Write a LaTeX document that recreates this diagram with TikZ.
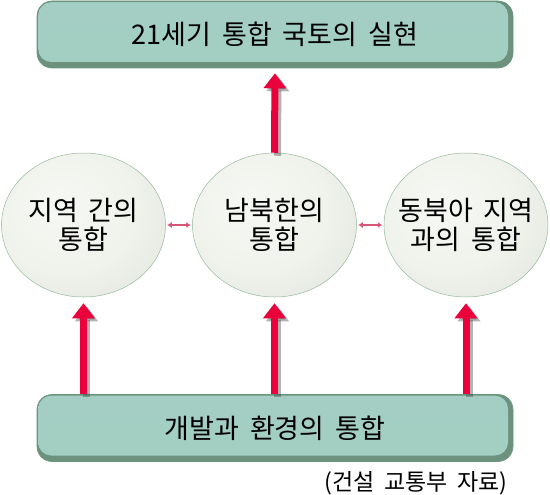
\documentclass[tikz,border=0pt]{standalone}
\usepackage{fontspec}
\newfontfamily\kr[WordSpace=1.8]{Noto Sans CJK KR}
\usetikzlibrary{shapes.geometric,arrows.meta}
\definecolor{arrred}{RGB}{234,0,58}
\definecolor{dblred}{RGB}{214,86,118}
\definecolor{boxdark}{RGB}{108,146,126}
\definecolor{boxedge}{RGB}{106,148,124}
\definecolor{ballrim}{RGB}{150,185,158}
\newcommand{\zl}[1]{\makebox[0pt]{#1}}
\pgfdeclareradialshading{ballshade}{\pgfpoint{-8bp}{8bp}}{rgb(0bp)=(0.965,0.972,0.955); rgb(22bp)=(0.94,0.95,0.925); rgb(38bp)=(0.885,0.905,0.87); rgb(48bp)=(0.79,0.835,0.78); rgb(55bp)=(0.66,0.735,0.67); rgb(70bp)=(0.63,0.71,0.64)}
\pgfdeclareverticalshading{boxshade}{100bp}{rgb(0bp)=(0.52,0.69,0.61); rgb(10bp)=(0.60,0.78,0.72); rgb(20bp)=(0.635,0.805,0.76); rgb(80bp)=(0.645,0.81,0.765); rgb(92bp)=(0.71,0.86,0.81); rgb(100bp)=(0.66,0.80,0.74)}
\tikzset{
  bigbox/.style={rectangle, rounded corners=15pt, minimum width=476pt, minimum height=67pt,
    fill=boxdark, draw=boxedge, line width=0.6pt, inner sep=0pt,
    font=\kr\fontsize{27}{30}\selectfont,
    path picture={\shade[shading=boxshade, rounded corners=13pt]
      ([shift={(1.2pt,6pt)}]path picture bounding box.south west) rectangle
      ([shift={(-5pt,-1.2pt)}]path picture bounding box.north east);}},
  ball/.style={ellipse, minimum width=164pt, minimum height=144pt, inner sep=0pt,
    align=center, shading=ballshade, draw=ballrim, line width=0.5pt,
    font=\kr\fontsize{27}{29}\selectfont},
  redarr/.style={line width=7pt, draw=arrred, -{Triangle[width=22pt,length=15pt]}},
  shadowarr/.style={line width=7pt, draw=black!75, opacity=0.4, -{Triangle[width=22pt,length=15pt]},
    transform canvas={shift={(3pt,-3pt)}}},
  dblarr/.style={line width=1.5pt, draw=dblred, {Latex[length=4.5pt,width=6pt]}-{Latex[length=4.5pt,width=6pt]}, shorten <=1.5pt, shorten >=1.5pt},
  srcst/.style={font=\kr\fontsize{23}{26}\selectfont, inner sep=0pt}
}
\begin{document}
\begin{tikzpicture}[x=1pt,y=-1pt]
\useasboundingbox (0,0) rectangle (550,495);
\node[bigbox] (top) at (275,34.5) {21세기 통합 국토의 실현};
\node[bigbox] (bot) at (275,428) {개발과 환경의 통합};
\node[ball] (c1) at (83.5,225) {\zl{지역 간의}\\\zl{통합}};
\node[ball] (c2) at (274.5,225) {\zl{남북한의}\\\zl{통합}};
\node[ball] (c3) at (466,225) {\zl{동북아 지역}\\\zl{과의 통합}};
\node[srcst] (src) at (416,483) {(건설 교통부 자료)};
% shadows
\draw[shadowarr, shorten >=5pt] (c2.north) -- (top.south);
\draw[shadowarr, shorten >=6pt] (bot.north -| c1.south) -- (c1.south);
\draw[shadowarr, shorten >=6pt] (bot.north -| c2.south) -- (c2.south);
\draw[shadowarr, shorten >=6pt] (bot.north -| c3.south) -- (c3.south);
% arrows
\draw[redarr, shorten >=5pt] (c2.north) -- (top.south);
\draw[redarr, shorten >=6pt] (bot.north -| c1.south) -- (c1.south);
\draw[redarr, shorten >=6pt] (bot.north -| c2.south) -- (c2.south);
\draw[redarr, shorten >=6pt] (bot.north -| c3.south) -- (c3.south);
\draw[dblarr] (c1.east) -- (c2.west);
\draw[dblarr] (c2.east) -- (c3.west);
\end{tikzpicture}
\end{document}
